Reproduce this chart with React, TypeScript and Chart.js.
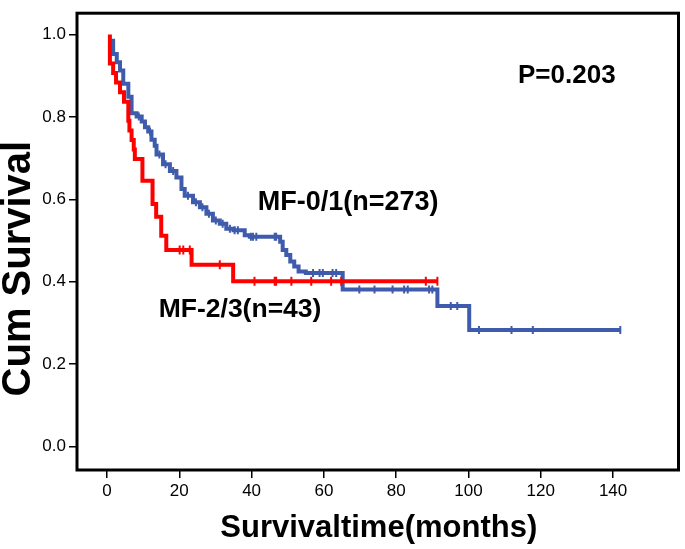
import React, { useEffect, useRef } from "react";
import { Chart, registerables } from "chart.js";

Chart.register(...registerables);

// ---- Data ----
const xTickValues = [0, 20, 40, 60, 80, 100, 120, 140];
const yTickValues = [0, 0.2, 0.4, 0.6, 0.8, 1.0];

// MF-0/1 (n=273): event times (months) and survival after each step
const blueTimes = [1.7, 1.7, 2.7, 3.6, 4.5, 5.9, 6.8, 8.2, 9.6, 10.5, 11.4, 12.3, 13.2, 13.7, 15.5, 17.4, 19.2, 20.6, 21.5, 23.8, 25.7, 27.5, 29.3, 31.2, 33.0, 35.0, 38.1, 39.5, 47.9, 48.6, 49.6, 50.7, 51.8, 53.0, 55.0, 65.2, 91.4, 100.2, 142.0];
const blueSurv = [0.99, 0.953, 0.933, 0.913, 0.881, 0.849, 0.809, 0.801, 0.789, 0.775, 0.765, 0.745, 0.73, 0.709, 0.685, 0.669, 0.653, 0.625, 0.609, 0.593, 0.581, 0.565, 0.549, 0.541, 0.529, 0.525, 0.513, 0.509, 0.497, 0.477, 0.465, 0.449, 0.437, 0.425, 0.421, 0.381, 0.341, 0.283, 0.283];
const blueCensor = [8.8, 11.9, 14.5, 16.2, 18.3, 22.4, 24.6, 26.4, 28.2, 30.1, 32.0, 34.0, 35.3, 36.2, 39.8, 40.4, 41.3, 46.4, 46.8, 57.0, 58.8, 59.7, 62.4, 63.4, 69.8, 74.0, 79.0, 82.2, 83.2, 89.1, 90.0, 95.1, 96.9, 102.9, 111.9, 117.8, 142.0];

// MF-2/3 (n=43)
const redTimes = [0.8, 0.8, 1.7, 2.5, 3.6, 4.7, 5.9, 6.2, 6.8, 7.4, 7.7, 9.8, 12.6, 13.6, 15.0, 16.4, 23.4, 34.9, 91.4];
const redSurv = [1.0, 0.93, 0.907, 0.884, 0.86, 0.837, 0.791, 0.767, 0.744, 0.721, 0.698, 0.645, 0.589, 0.558, 0.512, 0.477, 0.441, 0.401, 0.401];
const redCensor = [20.1, 21.1, 22.9, 31.2, 40.8, 46.4, 46.8, 51.0, 56.5, 62.0, 64.8, 88.2, 91.4];

const xTitle = "Survivaltime(months)";
const yTitle = "Cum Survival";
const pText = "P=0.203";
const blueLabel = "MF-0/1(n=273)";
const redLabel = "MF-2/3(n=43)";
// annotation anchors in data units [months, survival]
const pAnchor = [113.7, 0.9];
const blueLabelAnchor = [41.7, 0.592];
const redLabelAnchor = [14.3, 0.333];

const BLUE = "#3F5BAB";
const RED = "#FF0000";
const FONT = "'Liberation Sans', Arial, Helvetica, sans-serif";

function stepAt(times: number[], surv: number[], t: number) {
  let v = surv[0];
  for (let i = 0; i < times.length; i++) {
    if (times[i] <= t) v = surv[i];
  }
  return v;
}

const toPoints = (ts: number[], ss: number[]) => ts.map((t, i) => ({ x: t, y: ss[i] }));

export default function App() {
  const ref = useRef<HTMLCanvasElement | null>(null);

  useEffect(() => {
    if (!ref.current) return;

    const framePlugin = {
      id: "frameAndText",
      afterDatasetsDraw(chart: any) {
        const { ctx, chartArea, scales } = chart;
        const xs = scales.x;
        const ys = scales.y;
        ctx.save();
        // frame
        ctx.strokeStyle = "#000";
        ctx.lineWidth = 3;
        ctx.strokeRect(chartArea.left, chartArea.top, chartArea.right - chartArea.left, chartArea.bottom - chartArea.top);
        // annotations
        ctx.fillStyle = "#000";
        ctx.textAlign = "left";
        ctx.textBaseline = "middle";
        ctx.font = `bold 26px ${FONT}`;
        ctx.fillText(pText, xs.getPixelForValue(pAnchor[0]), ys.getPixelForValue(pAnchor[1]));
        ctx.font = `bold 27px ${FONT}`;
        ctx.fillText(blueLabel, xs.getPixelForValue(blueLabelAnchor[0]), ys.getPixelForValue(blueLabelAnchor[1]));
        ctx.font = `bold 26.5px ${FONT}`;
        ctx.fillText(redLabel, xs.getPixelForValue(redLabelAnchor[0]), ys.getPixelForValue(redLabelAnchor[1]));
        // axis titles
        ctx.textAlign = "center";
        ctx.textBaseline = "alphabetic";
        ctx.font = `bold 31px ${FONT}`;
        ctx.fillText(xTitle, (chartArea.left + chartArea.right) / 2 + 1, chartArea.bottom + 67);
        ctx.translate(19, (chartArea.top + chartArea.bottom) / 2 + 27);
        ctx.rotate(-Math.PI / 2);
        ctx.textBaseline = "middle";
        ctx.font = `bold 40px ${FONT}`;
        ctx.fillText(yTitle, 0, 0);
        ctx.restore();
      },
    };

    const chart = new Chart(ref.current, {
      type: "line",
      data: {
        datasets: [
          {
            label: redLabel,
            data: toPoints(redTimes, redSurv),
            borderColor: RED,
            borderWidth: 4,
            stepped: "before",
            pointRadius: 0,
            fill: false,
            order: 1,
          },
          {
            label: redLabel + " censored",
            data: redCensor.map((t) => ({ x: t, y: stepAt(redTimes, redSurv, t) })),
            showLine: false,
            pointStyle: "line",
            rotation: 90,
            pointRadius: 4.5,
            borderColor: RED,
            borderWidth: 2,
            order: 0,
          },
          {
            label: blueLabel,
            data: toPoints(blueTimes, blueSurv),
            borderColor: BLUE,
            borderWidth: 4,
            stepped: "before",
            pointRadius: 0,
            fill: false,
            order: 3,
          },
          {
            label: blueLabel + " censored",
            data: blueCensor.map((t) => ({ x: t, y: stepAt(blueTimes, blueSurv, t) })),
            showLine: false,
            pointStyle: "line",
            rotation: 90,
            pointRadius: 4,
            borderColor: BLUE,
            borderWidth: 2,
            order: 2,
          },
        ],
      },
      options: {
        animation: false,
        responsive: false,
        devicePixelRatio: 1,
        layout: { padding: { top: 4, right: 5, left: 0, bottom: 0 } },
        plugins: { legend: { display: false }, tooltip: { enabled: false } },
        scales: {
          x: {
            type: "linear",
            min: -8.3,
            max: 158.1,
            afterBuildTicks: (axis: any) => {
              axis.ticks = xTickValues.map((v) => ({ value: v }));
            },
            afterFit: (s: any) => {
              s.height = 79;
            },
            border: { display: false },
            grid: { drawOnChartArea: false, drawTicks: true, tickLength: 8, color: "#000", lineWidth: 1.5 },
            ticks: { color: "#000", padding: 3, maxRotation: 0, font: { family: FONT, size: 17 } },
          },
          y: {
            type: "linear",
            min: -0.057,
            max: 1.052,
            afterBuildTicks: (axis: any) => {
              axis.ticks = yTickValues.map((v) => ({ value: v }));
            },
            afterFit: (s: any) => {
              s.width = 77;
            },
            border: { display: false },
            grid: { drawOnChartArea: false, drawTicks: true, tickLength: 8, color: "#000", lineWidth: 1.5 },
            ticks: {
              color: "#000",
              padding: 3,
              font: { family: FONT, size: 17 },
              callback: (v: any) => Number(v).toFixed(1),
            },
          },
        },
      },
      plugins: [framePlugin],
    } as any);

    return () => chart.destroy();
  }, []);

  return (
    <div style={{ position: "fixed", left: 0, top: 0, width: 685, height: 549, background: "#fff" }}>
      <canvas ref={ref} width={685} height={549} style={{ display: "block" }} />
    </div>
  );
}
